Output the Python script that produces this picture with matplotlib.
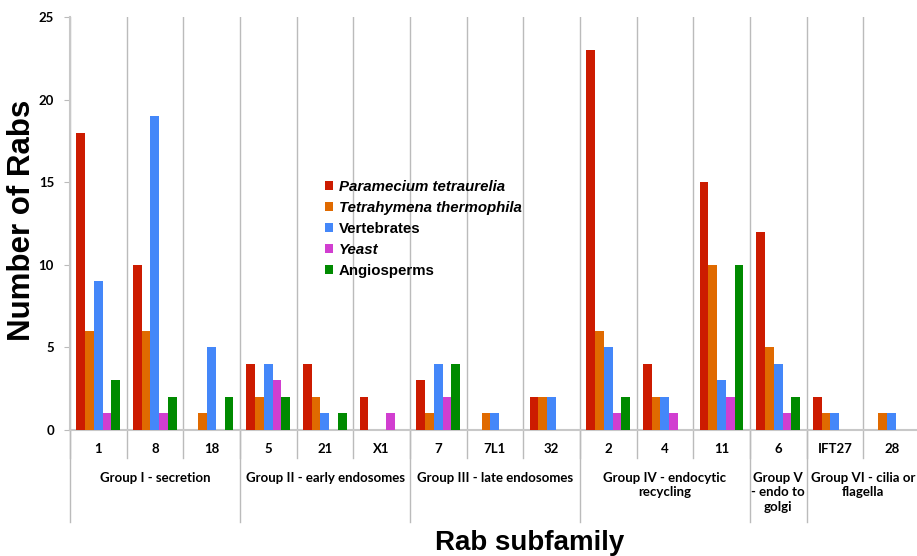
import matplotlib
matplotlib.use('Agg')
import matplotlib.pyplot as plt
import numpy as np
from matplotlib.patches import Patch

categories = ['1', '8', '18', '5', '21', 'X1', '7', '7L1', '32', '2', '4', '11', '6', 'IFT27', '28']
paramecium = [18, 10, 0, 4, 4, 2, 3, 0, 2, 23, 4, 15, 12, 2, 0]
tetrahymena = [6, 6, 1, 2, 2, 0, 1, 1, 2, 6, 2, 10, 5, 1, 1]
vertebrates = [9, 19, 5, 4, 1, 0, 4, 1, 2, 5, 2, 3, 4, 1, 1]
yeast = [1, 1, 0, 3, 0, 1, 2, 0, 0, 1, 1, 2, 1, 0, 0]
angiosperms = [3, 2, 2, 2, 1, 0, 4, 0, 0, 2, 0, 10, 2, 0, 0]

series_names = ['Paramecium tetraurelia', 'Tetrahymena thermophila', 'Vertebrates', 'Yeast', 'Angiosperms']
italic = [True, True, False, True, False]
colors = ['#cc1b00', '#e06a00', '#4487f9', '#d13ed0', '#008a00']

groups = ['Group I - secretion', 'Group II - early endosomes', 'Group III - late endosomes',
          'Group IV - endocytic\nrecycling', 'Group V\n- endo to\ngolgi', 'Group VI - cilia or\nflagella']
group_sizes = [3, 3, 3, 3, 1, 2]

W, H = 917, 556
fig = plt.figure(figsize=(W / 100, H / 100), dpi=100)
ax = fig.add_axes([70 / W, 1 - 430 / H, 850 / W, 413 / H])

x = np.arange(len(categories))
bw = 0.155
data = [paramecium, tetrahymena, vertebrates, yeast, angiosperms]
for i, vals in enumerate(data):
    ax.bar(x - 0.39 + bw * (i + 0.5), vals, bw, color=colors[i], zorder=3)

ax.set_xlim(-0.5, len(categories) - 0.5)
ax.set_ylim(0, 25)
ax.set_yticks(range(0, 26, 5))
ax.set_yticklabels([str(v) for v in range(0, 26, 5)], fontfamily='Lato', fontweight='bold', fontsize=9.5)
ax.tick_params(axis='y', length=4, color='#bbbbbb', pad=7.5)
ax.set_xticks([])
for s in ['top', 'right', 'left']:
    ax.spines[s].set_visible(False)
ax.spines['bottom'].set_color('#c8c8c8')
ax.spines['bottom'].set_linewidth(1.5)

tr = ax.get_xaxis_transform()
# category separators
for b in np.arange(-0.5, len(categories)):
    ax.plot([b, b], [0, 1], color='#bbbbbb', lw=1, transform=tr, zorder=1)
    ax.plot([b, b], [0, -28 / 413], color='#bbbbbb', lw=1, transform=tr, clip_on=False)
# group separators
edges = np.concatenate([[0], np.cumsum(group_sizes)]) - 0.5
for b in edges:
    ax.plot([b, b], [0, -92 / 413], color='#bbbbbb', lw=1, transform=tr, clip_on=False)
ax.plot([-0.5, -0.5], [0, 1], color='#c8c8c8', lw=1.5, transform=tr, clip_on=False)

for xi, c in zip(x, categories):
    ax.text(xi, -19 / 413, c, transform=tr, ha='center', va='center',
            fontfamily='Lato', fontweight='bold', fontsize=9.5)

for g, a, b in zip(groups, edges[:-1], edges[1:]):
    ax.text((a + b) / 2, -42 / 413, g, transform=tr, ha='center', va='top',
            fontfamily='Lato', fontweight='bold', fontsize=9.5, linespacing=1.25)

fig.text(22 / W, 1 - 220 / H, 'Number of Rabs', rotation=90, ha='center', va='center',
         fontfamily='Liberation Sans', fontweight='bold', fontsize=22.5)
fig.text(530 / W, 1 - 543 / H, 'Rab subfamily', ha='center', va='center',
         fontfamily='Liberation Sans', fontweight='bold', fontsize=20)

handles = [Patch(facecolor=c) for c in colors]
leg = ax.legend(handles, series_names, loc='upper left', bbox_to_anchor=(317 / W, 1 - 172 / H),
                bbox_transform=fig.transFigure, frameon=False, handlelength=0.55, handleheight=0.55,
                handletextpad=0.4, labelspacing=0.47, borderpad=0,
                prop={'family': 'Liberation Sans', 'weight': 'bold', 'size': 10.8})
for t, it in zip(leg.get_texts(), italic):
    if it:
        t.set_fontstyle('italic')

fig.savefig('out.png', dpi=100)
